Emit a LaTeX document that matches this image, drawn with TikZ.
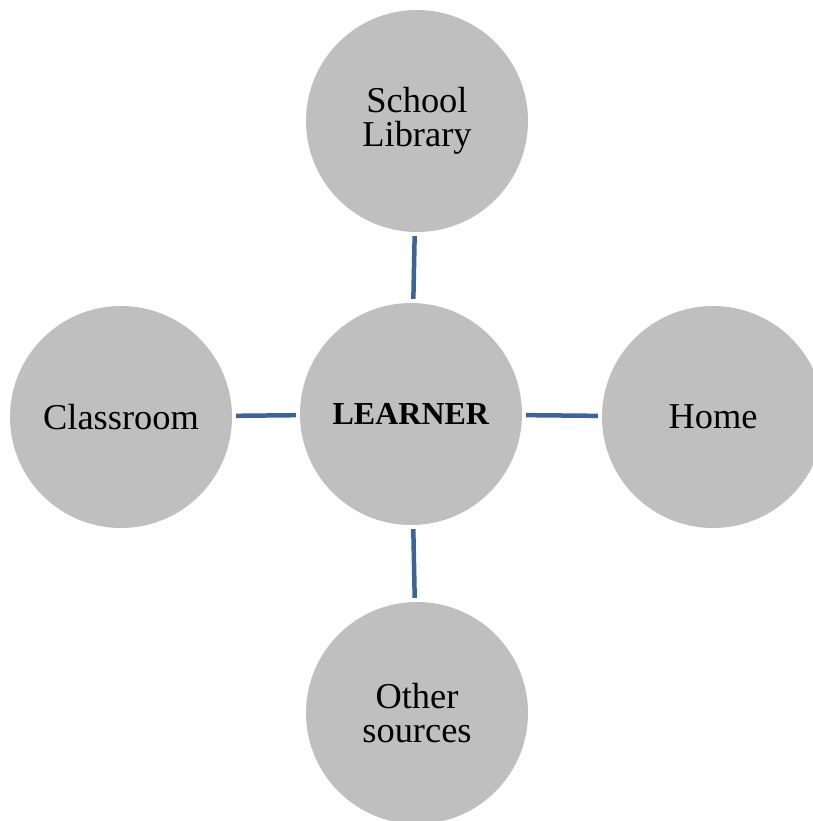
\documentclass[tikz,border=0pt]{standalone}
\usepackage{fontspec}
\setmainfont{Liberation Serif}
\usepackage{tikz}
\usetikzlibrary{positioning}
\usepackage{xcolor}
\definecolor{linkblue}{HTML}{3C6496}
\definecolor{discgray}{HTML}{BFBFBF}

\begin{document}
\begin{tikzpicture}[x=1pt, y=-1pt,
        disc/.style={circle, fill=discgray, minimum size=222pt, inner sep=0pt,
            align=center, font=\fontsize{36.4}{34}\selectfont},
        link/.style={linkblue, line width=4.5pt, shorten >=4pt, shorten <=4pt}]
        \useasboundingbox (0,0) rectangle (812,821);

        \node[disc] (learner) at (411,414) {\textbf{\fontsize{32}{34}\selectfont LEARNER}};
        \node[disc] (library) at (417,121) {School\\Library};
        \node[disc] (classroom) at (121,417) {Classroom};
        \node[disc] (home) at (713,417) {Home};
        \node[disc] (other) at (417,713) {Other\\sources};

        \draw[link] (library) -- (learner);
        \draw[link] (classroom) -- (learner);
        \draw[link] (learner) -- (home);
        \draw[link] (learner) -- (other);

    \end{tikzpicture}
\end{document}
